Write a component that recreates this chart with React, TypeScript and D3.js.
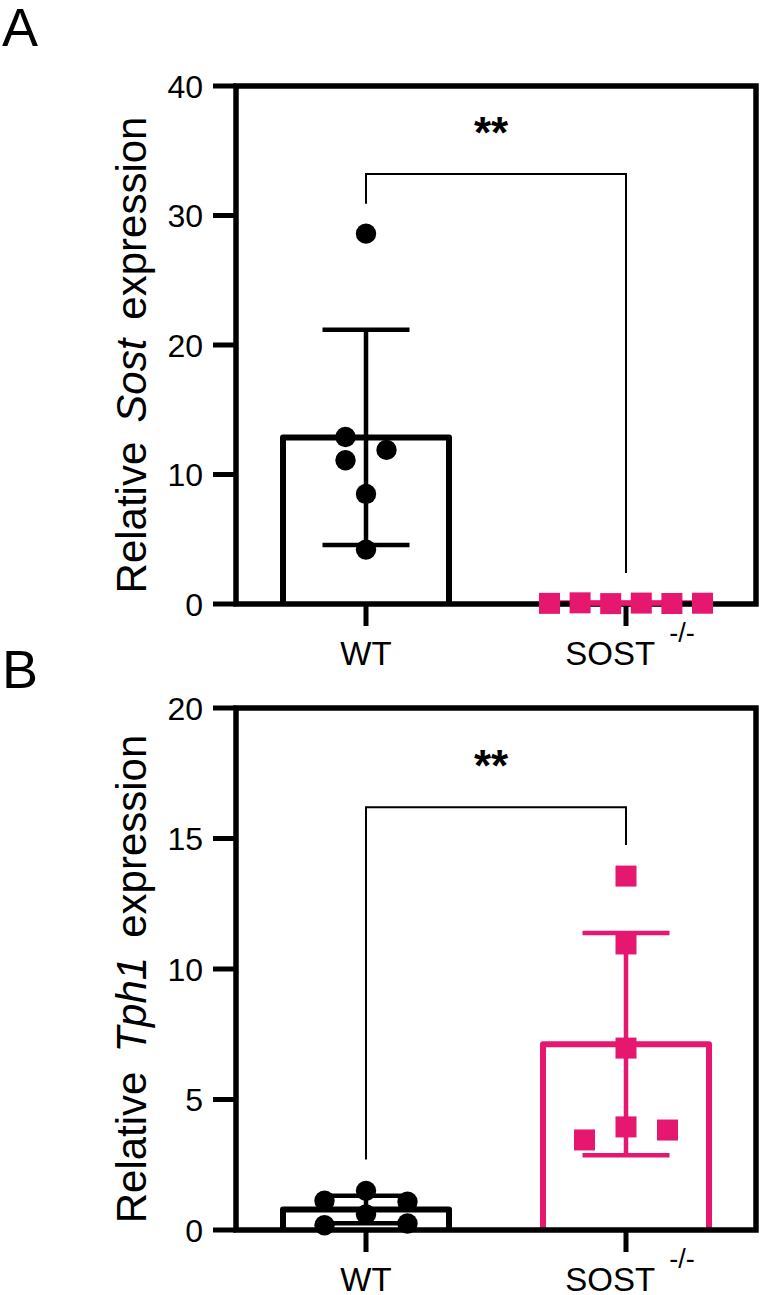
import * as d3 from "d3";

const groups = ["WT", "SOST"];
const pink = "#e5176f";
const font = "'Liberation Sans', Arial, Helvetica, sans-serif";

// Sost qPCR (panel A)
const sostWT = [28.6, 12.9, 11.9, 11.1, 8.5, 4.2];
const sostKO = [0.05, 0.09, 0.03, 0.07, 0.04, 0.06];
const ticksA = [0, 10, 20, 30, 40];

// Tph1 qPCR (panel B)
const tph1WT = [1.5, 1.12, 1.08, 0.6, 0.18, 0.25];
const tph1KO = [13.56, 10.96, 6.97, 3.95, 3.45, 3.83];
const ticksB = [0, 5, 10, 15, 20];

// scatter column slot of each replicate
const slotsAWT = [0, -1, 1, -1, 0, 0];
const slotsAKO = [-2.5, -1.5, -0.5, 0.5, 1.5, 2.5];
const slotsBWT = [0, -1, 1, 0, -1, 1];
const slotsBKO = [0, 0, 0, 0, -1, 1];

const left = 236;
const right = 756;

type PanelProps = {
  letter: string;
  letterY: number;
  top: number;
  bottom: number;
  ticks: number[];
  gene: string;
  wt: number[];
  ko: number[];
  slotsWT: number[];
  slotsKO: number[];
  gapWT: number;
  gapKO: number;
  bracket: [number, number, number];
};

function Panel(p: PanelProps) {
  const x = d3.scalePoint<string>().domain(groups).range([left, right]).padding(0.5);
  const y = d3.scaleLinear().domain([0, d3.max(p.ticks)!]).range([p.bottom, p.top]);
  const halfBar = 83;
  const halfCap = 43.5;

  const series = [
    { key: "WT", vals: p.wt, slots: p.slotsWT, gap: p.gapWT, color: "#000" },
    { key: "SOST", vals: p.ko, slots: p.slotsKO, gap: p.gapKO, color: pink },
  ];

  const [bLevel, bLeft, bRight] = p.bracket;
  const xw = x("WT")!;
  const xk = x("SOST")!;
  const axisMid = (p.top + p.bottom) / 2;

  return (
    <g>
      <text x={2} y={p.letterY} fontSize={54} fontFamily={font}>
        {p.letter}
      </text>

      {/* bar outlines at the group mean */}
      {series.map((s) => {
        const m = d3.mean(s.vals)!;
        const cx = x(s.key)!;
        return (
          <path
            key={s.key}
            d={`M${cx - halfBar},${y(0)}V${y(m)}H${cx + halfBar}V${y(0)}`}
            fill="#fff"
            stroke={s.color}
            strokeWidth={6}
            strokeLinejoin="round"
          />
        );
      })}

      {/* frame and axes */}
      <rect x={left} y={p.top} width={right - left} height={p.bottom - p.top} fill="none" stroke="#000" strokeWidth={5.5} />
      {p.ticks.map((t) => (
        <g key={t}>
          <line x1={left - 23} x2={left} y1={y(t)} y2={y(t)} stroke="#000" strokeWidth={5} />
          <text x={203} y={y(t)} dy="0.36em" textAnchor="end" fontSize={32} fontFamily={font}>
            {t}
          </text>
        </g>
      ))}
      {groups.map((g) => (
        <line key={g} x1={x(g)} x2={x(g)} y1={p.bottom} y2={p.bottom + 22} stroke="#000" strokeWidth={5} />
      ))}
      <text x={xw} y={p.bottom + 61} textAnchor="middle" fontSize={33} fontFamily={font}>
        WT
      </text>
      <text x={xk + 4} y={p.bottom + 61} textAnchor="middle" fontSize={33} fontFamily={font}>
        SOST
        <tspan dx={14} dy={-23} fontSize={27}>
          -/-
        </tspan>
      </text>

      <text
        transform={`translate(146,${axisMid + 10}) rotate(-90)`}
        textAnchor="middle"
        fontSize={42}
        fontFamily={font}
      >
        Relative
        <tspan dx={19} fontStyle="italic">{p.gene}</tspan>
        <tspan dx={19}>expression</tspan>
      </text>

      {/* error bars (mean ± SD) and replicates */}
      {series.map((s) => {
        const m = d3.mean(s.vals)!;
        const sd = d3.deviation(s.vals)!;
        const cx = x(s.key)!;
        return (
          <g key={s.key}>
            <line x1={cx} x2={cx} y1={y(m + sd)} y2={y(Math.max(0, m - sd))} stroke={s.color} strokeWidth={4.5} />
            <line x1={cx - halfCap} x2={cx + halfCap} y1={y(m + sd)} y2={y(m + sd)} stroke={s.color} strokeWidth={4.5} />
            <line x1={cx - halfCap} x2={cx + halfCap} y1={y(m - sd)} y2={y(m - sd)} stroke={s.color} strokeWidth={4.5} />
            {s.vals.map((v, i) =>
              s.key === "WT" ? (
                <circle key={i} cx={cx + s.slots[i] * s.gap} cy={y(v)} r={10.2} fill={s.color} />
              ) : (
                <rect key={i} x={cx + s.slots[i] * s.gap - 10.5} y={y(v) - 10.5} width={21} height={21} fill={s.color} />
              )
            )}
          </g>
        );
      })}

      {/* significance bracket */}
      <path
        d={`M${xw},${y(bLeft)}V${y(bLevel)}H${xk}V${y(bRight)}`}
        fill="none"
        stroke="#000"
        strokeWidth={2}
      />
      <text x={(xw + xk) / 2 - 5} y={y(bLevel) - 26} textAnchor="middle" fontSize={44} fontWeight="bold" fontFamily={font}>
        **
      </text>
    </g>
  );
}

export default function App() {
  return (
    <svg
      width={762}
      height={1295}
      style={{ position: "absolute", left: 0, top: 0, background: "#fff" }}
    >
      <Panel
        letter="A"
        letterY={46}
        top={86}
        bottom={604}
        ticks={ticksA}
        gene="Sost"
        wt={sostWT}
        ko={sostKO}
        slotsWT={slotsAWT}
        slotsKO={slotsAKO}
        gapWT={20.5}
        gapKO={30.6}
        bracket={[33.2, 30.9, 2.4]}
      />
      <Panel
        letter="B"
        letterY={688}
        top={708}
        bottom={1230}
        ticks={ticksB}
        gene="Tph1"
        wt={tph1WT}
        ko={tph1KO}
        slotsWT={slotsBWT}
        slotsKO={slotsBKO}
        gapWT={41.5}
        gapKO={41.5}
        bracket={[16.2, 2.7, 14.75]}
      />
    </svg>
  );
}
